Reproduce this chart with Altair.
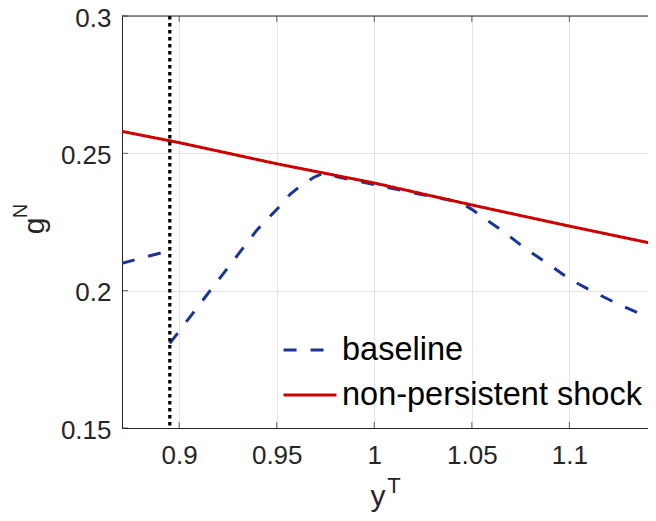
import altair as alt
import pandas as pd

# ---- data ----
series_names = ["baseline", "non-persistent shock"]

x_base = [0.8707, 0.8952, 0.8952, 0.9161, 0.9400, 0.9519, 0.9570, 0.9621, 0.9689,
          0.9732, 1.0000, 1.0200, 1.0440, 1.0500, 1.0619, 1.0662, 1.0781, 1.0901,
          1.1003, 1.1122, 1.1242, 1.1378, 1.1444]
y_base = [0.2100, 0.2146, 0.1808, 0.2002, 0.2222, 0.2310, 0.2352, 0.2381, 0.2412,
          0.2426, 0.2386, 0.2356, 0.2322, 0.2296, 0.2236, 0.2215, 0.2150, 0.2093,
          0.2041, 0.1996, 0.1954, 0.1911, 0.1898]
# the baseline jumps at the threshold: first 2 points form one piece, the rest another
seg_base = [0, 0] + [1] * (len(x_base) - 2)

x_np = [0.8707, 0.9000, 0.9500, 1.0000, 1.0500, 1.1000, 1.1444]
y_np = [0.2580, 0.2539, 0.2462, 0.2392, 0.2312, 0.2235, 0.2169]

vline_x = [0.8952]

x_ticks = [0.9, 0.95, 1.0, 1.05, 1.1]
y_ticks = [0.15, 0.2, 0.25, 0.3]
x_domain = [0.8707, 1.1403]
y_domain = [0.15, 0.3]

colors = ["#1a3399", "#cc0000"]
dashes = [[13, 14], [1, 0]]

FONT = "Liberation Sans"
AX = "#262626"

rows = []
for i, (xv, yv, s) in enumerate(zip(x_base, y_base, seg_base)):
    rows.append({"series": series_names[0], "x": xv, "y": yv, "o": i, "seg": f"b{s}"})
for i, (xv, yv) in enumerate(zip(x_np, y_np)):
    rows.append({"series": series_names[1], "x": xv, "y": yv, "o": i, "seg": "n0"})
df = pd.DataFrame(rows)

xs = alt.Scale(domain=x_domain, nice=False, zero=False)
ys = alt.Scale(domain=y_domain, nice=False, zero=False)

x_axis = alt.Axis(values=x_ticks, format="~g", title=None, ticks=False,
                  grid=True, gridColor="#e4e4e4", domainColor=AX,
                  labelFontSize=26, labelFont=FONT, labelColor=AX,
                  labelPadding=14)
y_axis = alt.Axis(values=y_ticks, format="~g", title=None, ticks=False,
                  grid=True, gridColor="#e4e4e4", domainColor=AX,
                  labelFontSize=26, labelFont=FONT, labelColor=AX,
                  labelPadding=11, labelOffset=2)

lines = alt.Chart(df).mark_line(strokeWidth=3, clip=True, strokeCap="butt").encode(
    x=alt.X("x:Q", scale=xs, axis=x_axis),
    y=alt.Y("y:Q", scale=ys, axis=y_axis),
    color=alt.Color("series:N", scale=alt.Scale(domain=series_names, range=colors),
                    legend=alt.Legend(title=None)),
    strokeDash=alt.StrokeDash("series:N", scale=alt.Scale(domain=series_names, range=dashes),
                              legend=alt.Legend(title=None)),
    detail="seg:N",
    order="o:Q",
)

vline = alt.Chart(pd.DataFrame({"x": vline_x})).mark_rule(
    color="black", strokeWidth=3.3, strokeDash=[3.5, 3.5]
).encode(x=alt.X("x:Q", scale=xs))

top_border = alt.Chart().mark_rule(color=AX, strokeWidth=1).encode(
    y=alt.datum(y_domain[1], scale=ys)
)

tick_df_x = pd.DataFrame({"t": x_ticks})
tick_df_y = pd.DataFrame({"t": y_ticks})
ticks_bottom = alt.Chart(tick_df_x).mark_tick(orient="vertical", size=6, thickness=1,
                                               color=AX, yOffset=-3).encode(
    x=alt.X("t:Q", scale=xs), y=alt.datum(y_domain[0], scale=ys))
ticks_top = alt.Chart(tick_df_x).mark_tick(orient="vertical", size=6, thickness=1,
                                            color=AX, yOffset=3).encode(
    x=alt.X("t:Q", scale=xs), y=alt.datum(y_domain[1], scale=ys))
ticks_left = alt.Chart(tick_df_y).mark_tick(orient="horizontal", size=6, thickness=1,
                                             color=AX, xOffset=3).encode(
    y=alt.Y("t:Q", scale=ys), x=alt.datum(x_domain[0], scale=xs))

# axis titles with superscripts
xt_main = alt.Chart().mark_text(text="y", font=FONT, fontSize=30, color=AX,
                                align="center", baseline="alphabetic").encode(
    x=alt.value(256), y=alt.value(490))
xt_sup = alt.Chart().mark_text(text="T", font=FONT, fontSize=22, color=AX,
                               align="center", baseline="alphabetic").encode(
    x=alt.value(272), y=alt.value(477))
yt_main = alt.Chart().mark_text(text="g", font=FONT, fontSize=30, color=AX, angle=270,
                                align="center", baseline="alphabetic").encode(
    x=alt.value(-78), y=alt.value(210))
yt_sup = alt.Chart().mark_text(text="N", font=FONT, fontSize=20, color=AX, angle=270,
                               align="center", baseline="alphabetic").encode(
    x=alt.value(-95), y=alt.value(195))

chart = alt.layer(
    lines, vline, top_border, ticks_bottom, ticks_top, ticks_left,
    xt_main, xt_sup, yt_main, yt_sup
).properties(
    width=526, height=412,
    autosize=alt.AutoSizeParams(type="none"),
    padding={"left": 114, "top": 8, "right": 0, "bottom": 85},
).configure_view(stroke=None).configure_legend(
    orient="none", legendX=160, legendY=306, padding=0,
    symbolType="stroke", symbolSize=2800, symbolStrokeWidth=3,
    labelFontSize=32.5, labelFont=FONT, labelColor="black", labelOffset=4,
    rowPadding=-5, labelLimit=0,
)

chart.save("out.html", embed_options={"renderer": "svg", "actions": False})
